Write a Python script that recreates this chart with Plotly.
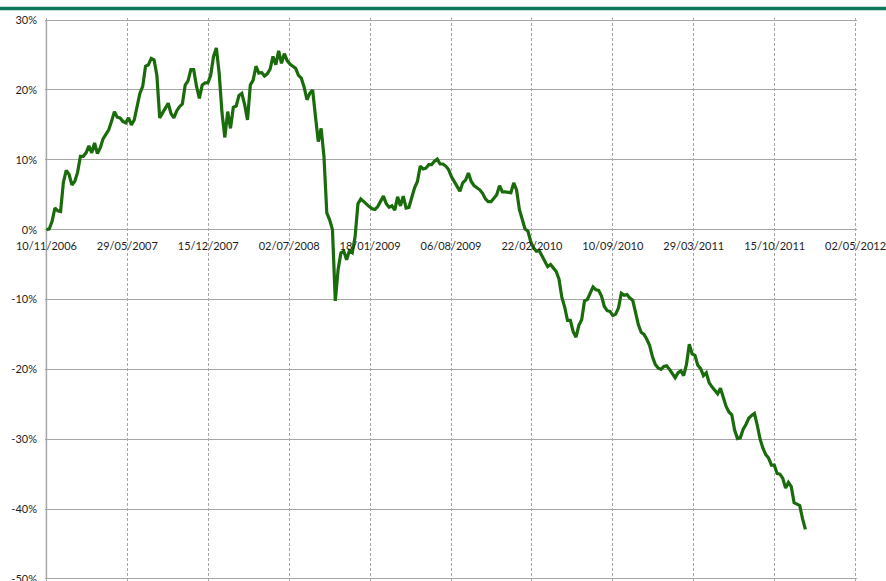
import pandas as pd
import plotly.graph_objects as go

# Weekly observations starting 10/11/2006 (cumulative performance, %)
start_date = "2006-11-10"
obs_freq = "7D"
performance_pct = [
    0.0, 0.1, 1.2, 3.1, 2.7, 2.6, 6.8, 8.5, 7.9, 6.4,
    6.9, 8.2, 10.5, 10.5, 11.0, 12.0, 11.0, 12.4, 10.9, 11.7,
    13.0, 13.7, 14.3, 15.5, 16.9, 16.1, 16.0, 15.5, 15.3, 16.0,
    15.0, 15.7, 17.9, 19.5, 20.5, 23.4, 23.6, 24.5, 24.3, 22.1,
    16.0, 16.8, 17.4, 18.1, 16.6, 16.0, 17.0, 17.6, 18.0, 20.7,
    21.3, 22.9, 22.9, 20.5, 18.8, 20.7, 21.0, 21.0, 22.1, 24.8,
    26.0, 22.4, 16.7, 13.2, 16.9, 14.5, 17.5, 17.7, 19.2, 19.5,
    17.9, 15.7, 20.7, 21.4, 23.4, 22.4, 22.5, 22.0, 22.3, 23.0,
    24.8, 23.6, 25.6, 23.8, 25.2, 24.2, 23.7, 23.4, 23.1, 22.1,
    21.7, 20.4, 18.6, 19.5, 20.0, 16.2, 12.6, 14.5, 10.5, 2.4,
    1.4, 0.0, -10.2, -5.7, -3.3, -3.1, -4.3, -3.0, -3.3, -1.0,
    3.7, 4.4, 4.0, 3.6, 3.3, 3.0, 2.9, 3.3, 4.1, 4.8,
    3.7, 3.2, 3.4, 2.8, 4.7, 3.4, 4.8, 3.1, 3.2, 4.8,
    6.0, 6.9, 9.1, 8.7, 8.8, 9.3, 9.3, 9.8, 10.1, 9.4,
    9.4, 9.1, 8.6, 7.6, 6.8, 6.2, 5.5, 6.7, 7.1, 8.1,
    6.9, 6.3, 6.0, 5.7, 5.2, 4.4, 4.0, 4.0, 4.5, 5.0,
    6.3, 5.4, 5.4, 5.4, 5.3, 6.7, 5.7, 2.9, 1.6, 0.1,
    -0.2, -1.7, -2.6, -3.1, -3.0, -3.7, -4.4, -5.3, -5.0, -5.6,
    -6.0, -7.1, -9.7, -11.1, -13.0, -13.0, -14.6, -15.4, -13.7, -12.9,
    -10.2, -10.0, -9.2, -8.2, -8.6, -8.7, -9.5, -11.0, -11.6, -11.7,
    -12.3, -12.1, -11.2, -9.1, -9.4, -9.3, -9.8, -10.1, -11.8, -13.6,
    -14.7, -15.0, -15.7, -16.6, -18.2, -19.3, -19.8, -20.0, -19.6, -19.5,
    -20.0, -20.6, -21.2, -20.5, -20.2, -20.9, -19.3, -16.4, -17.8, -18.0,
    -19.4, -19.9, -20.9, -20.5, -21.9, -22.5, -23.1, -23.5, -22.7, -23.9,
    -25.3, -26.1, -26.5, -28.7, -29.9, -29.8, -28.6, -27.9, -27.0, -26.6,
    -26.3, -28.0, -30.0, -31.3, -32.2, -32.7, -33.7, -33.7, -34.9, -35.0,
    -35.6, -37.0, -36.2, -36.8, -39.1, -39.3, -39.5, -41.4, -42.9,
]
obs_dates = pd.date_range(start_date, periods=len(performance_pct), freq=obs_freq)

# Axis definitions
x_axis_start = "2006-11-10"
x_axis_end = "2012-05-02"
x_tick_days = 200
y_tick_values = [-50, -40, -30, -20, -10, 0, 10, 20, 30]
y_tick_labels = ["-50%", "-40%", "-30%", "-20%", "-10%", "0%", "10%", "20%", "30%"]

# small padding so the boundary grid lines are kept by plotly
x_range = ["2006-11-06 12:00", "2012-05-05 12:00"]
y_range = [-50.3, 30.3]

GRID = "#a6a6a6"
FONT = dict(family="Lato, Carlito, sans-serif", size=11, color="#1e1e1e")

fig = go.Figure()
fig.add_trace(go.Scatter(
    x=obs_dates, y=performance_pct, mode="lines",
    line=dict(color="#1a6b0b", width=3.2), hoverinfo="x+y",
    showlegend=False,
))

fig.update_layout(
    width=886, height=581,
    margin=dict(l=44.6, r=28.6, t=18, b=0, pad=0),
    paper_bgcolor="white", plot_bgcolor="white",
    font=FONT,
    xaxis=dict(
        type="date", range=x_range, automargin=False,
        tick0=x_axis_start, dtick=x_tick_days * 86400000,
        tickformat="%d/%m/%Y",
        showgrid=True, gridcolor=GRID, gridwidth=1, griddash="3px,2px",
        anchor="free", position=(0 - y_range[0]) / (y_range[1] - y_range[0]),
        showline=False, zeroline=False, ticks="", ticklabelstandoff=8,
        ticklabeloverflow="allow", tickfont=FONT,
    ),
    yaxis=dict(
        range=y_range, automargin=False,
        tickmode="array", tickvals=y_tick_values, ticktext=y_tick_labels,
        showgrid=True, gridcolor=GRID, gridwidth=1,
        zeroline=True, zerolinecolor=GRID, zerolinewidth=1,
        showline=False,
        ticks="", ticklabelstandoff=7, ticklabeloverflow="allow", tickfont=FONT,
        domain=[0, 1],
    ),
    shapes=[
        dict(type="rect", xref="paper", yref="paper",
             x0=-0.06, x1=1.05, y0=1.0137, y1=1.0201,
             fillcolor="#10785a", line=dict(width=0), layer="above"),
        dict(type="line", xref="x", yref="y",
             x0=x_axis_start, x1=x_axis_start,
             y0=y_tick_values[0], y1=y_tick_values[-1],
             line=dict(color=GRID, width=1.5), layer="below"),
    ],
)

fig.write_html(
    "out.html",
    config={"displayModeBar": False},
    post_script="document.body.style.margin='0px';document.body.style.overflow='hidden';",
)
